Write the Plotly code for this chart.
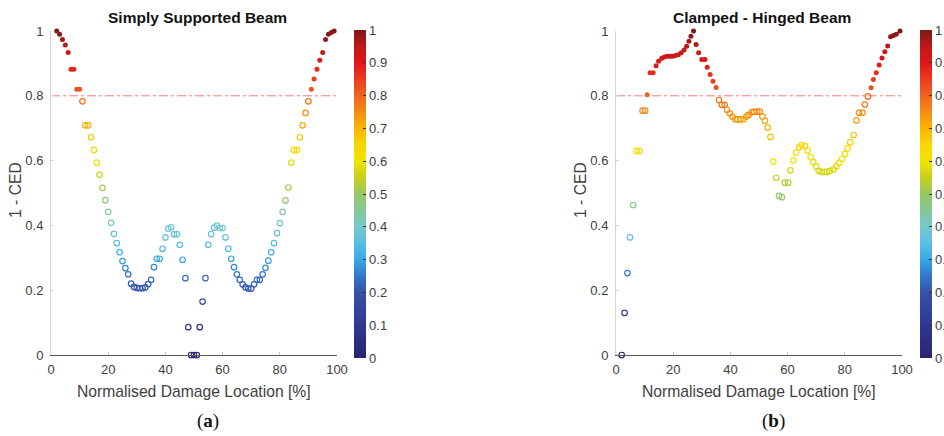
import plotly.graph_objects as go

# ---------------- data ----------------
THRESHOLD = 0.8

x_ss = list(range(2, 100))
y_ss = [1.000, 0.990, 0.974, 0.957, 0.934, 0.882, 0.882, 0.820, 0.820, 0.783,
        0.709, 0.709, 0.672, 0.633, 0.594, 0.556, 0.516, 0.478, 0.442, 0.408,
        0.374, 0.345, 0.317, 0.290, 0.268, 0.249, 0.220, 0.210, 0.207, 0.206,
        0.206, 0.209, 0.219, 0.232, 0.271, 0.297, 0.297, 0.328, 0.363, 0.390,
        0.394, 0.373, 0.373, 0.340, 0.294, 0.237, 0.086, 0.000, 0.000, 0.000,
        0.086, 0.165, 0.237, 0.340, 0.373, 0.393, 0.399, 0.392, 0.392, 0.363,
        0.328, 0.297, 0.271, 0.249, 0.232, 0.218, 0.209, 0.205, 0.205, 0.218,
        0.232, 0.232, 0.249, 0.269, 0.291, 0.317, 0.345, 0.376, 0.407, 0.442,
        0.477, 0.517, 0.594, 0.633, 0.633, 0.672, 0.709, 0.747, 0.783, 0.820,
        0.852, 0.882, 0.910, 0.934, 0.974, 0.990, 0.995, 1.000]

x_ch = [2.0, 3.0, 4.0, 4.9, 6.0, 7.2, 8.2, 9.3, 10.2, 10.9,
        11.9, 13.0, 14.0, 14.9, 16.0, 16.9, 17.9, 18.9, 19.8, 20.8,
        21.8, 22.8, 23.8, 24.7, 25.5, 26.2, 27.1, 28.0, 28.9, 30.0,
        31.1, 31.9, 32.9, 33.9, 35.0, 36.0, 37.0, 38.0, 38.8, 39.8,
        40.7, 41.7, 42.6, 43.5, 44.5, 45.6, 46.4, 47.4, 48.3, 49.4,
        50.3, 51.2, 52.1, 53.0, 54.0, 55.0, 56.0, 57.0, 58.0, 59.0,
        60.2, 61.0, 62.0, 63.0, 64.0, 64.9, 66.1, 67.0, 68.1, 69.0,
        70.0, 70.9, 71.9, 72.9, 73.8, 74.8, 76.1, 77.0, 78.0, 79.0,
        80.1, 81.0, 81.9, 83.1, 84.1, 85.0, 86.2, 87.0, 88.1, 89.2,
        90.0, 91.0, 92.0, 93.0, 94.0, 95.0, 96.0, 97.0, 98.0, 99.3]
y_ch = [0.000, 0.130, 0.253, 0.363, 0.463, 0.630, 0.630, 0.754, 0.754, 0.803,
        0.871, 0.871, 0.893, 0.907, 0.916, 0.920, 0.922, 0.922, 0.922, 0.924,
        0.927, 0.933, 0.941, 0.953, 0.968, 0.984, 1.000, 0.958, 0.933, 0.912,
        0.912, 0.888, 0.866, 0.845, 0.826, 0.787, 0.772, 0.772, 0.757, 0.746,
        0.736, 0.728, 0.727, 0.727, 0.728, 0.736, 0.741, 0.749, 0.751, 0.751,
        0.751, 0.736, 0.723, 0.702, 0.673, 0.597, 0.547, 0.491, 0.487, 0.532,
        0.532, 0.570, 0.601, 0.625, 0.641, 0.648, 0.645, 0.631, 0.611, 0.595,
        0.582, 0.568, 0.565, 0.565, 0.565, 0.568, 0.573, 0.582, 0.593, 0.605,
        0.621, 0.638, 0.657, 0.679, 0.724, 0.748, 0.748, 0.773, 0.798, 0.825,
        0.850, 0.871, 0.895, 0.917, 0.936, 0.954, 0.982, 0.986, 0.990, 1.000]

titles = ["Simply Supported Beam", "Clamped - Hinged Beam"]
panel_labels = ["(<b>a</b>)", "(<b>b</b>)"]
x_ticks = [0, 20, 40, 60, 80, 100]
y_ticks = [0, 0.2, 0.4, 0.6, 0.8, 1]
y_ticktext = ["0", "0.2", "0.4", "0.6", "0.8", "1"]
cb_ticks = [0, 0.1, 0.2, 0.3, 0.4, 0.5, 0.6, 0.7, 0.8, 0.9, 1]
cb_ticktext = ["0", "0.1", "0.2", "0.3", "0.4", "0.5", "0.6", "0.7", "0.8", "0.9", "1"]

# ---------------- style ----------------
CS = [
    [0.00, "rgb(42,36,112)"],
    [0.10, "rgb(48,55,145)"],
    [0.20, "rgb(55,82,165)"],
    [0.25, "rgb(52,118,200)"],
    [0.30, "rgb(55,168,230)"],
    [0.35, "rgb(92,190,230)"],
    [0.40, "rgb(118,200,205)"],
    [0.45, "rgb(132,200,150)"],
    [0.50, "rgb(152,200,98)"],
    [0.55, "rgb(200,208,30)"],
    [0.60, "rgb(240,228,0)"],
    [0.65, "rgb(250,215,0)"],
    [0.70, "rgb(250,180,0)"],
    [0.75, "rgb(245,140,20)"],
    [0.80, "rgb(240,100,30)"],
    [0.85, "rgb(235,60,30)"],
    [0.90, "rgb(225,22,25)"],
    [0.95, "rgb(190,25,25)"],
    [1.00, "rgb(125,25,25)"],
]

W, H = 944, 436
def px(v): return v / W
def py(v): return 1 - v / H

TICK_FONT = dict(family="Liberation Sans, Arial, sans-serif", size=13, color="#404040")
LBL_FONT = dict(family="Liberation Sans, Arial, sans-serif", size=15.7, color="#404040")

panels = [
    dict(x=x_ss, y=y_ss, xa="x", ya="y", ca="coloraxis", x0=51, x1=337, cb=354),
    dict(x=x_ch, y=y_ch, xa="x2", ya="y2", ca="coloraxis2", x0=616, x1=902, cb=920),
]
Y_TOP, Y_BOT = 31, 355

fig = go.Figure()
layout = dict(width=W, height=H, margin=dict(l=0, r=0, t=0, b=0, autoexpand=False),
              paper_bgcolor="white", plot_bgcolor="white", showlegend=False,
              annotations=[], shapes=[])

for i, p in enumerate(panels):
    filled_x = [a for a, b in zip(p["x"], p["y"]) if b > THRESHOLD]
    filled_y = [b for b in p["y"] if b > THRESHOLD]
    open_x = [a for a, b in zip(p["x"], p["y"]) if b <= THRESHOLD]
    open_y = [b for b in p["y"] if b <= THRESHOLD]
    fig.add_trace(go.Scatter(x=open_x, y=open_y, mode="markers", xaxis=p["xa"], yaxis=p["ya"],
                             cliponaxis=False,
                             marker=dict(symbol="circle-open", size=5.5, color=open_y,
                                         coloraxis=p["ca"], line=dict(width=1.2))))
    fig.add_trace(go.Scatter(x=filled_x, y=filled_y, mode="markers", xaxis=p["xa"], yaxis=p["ya"],
                             cliponaxis=False,
                             marker=dict(symbol="circle", size=5, color=filled_y,
                                         coloraxis=p["ca"], line=dict(width=0))))
    sfx = "" if i == 0 else "2"
    layout["xaxis" + sfx] = dict(domain=[px(p["x0"]), px(p["x1"])], range=[0, 100],
                                 anchor="y" + sfx, tickvals=x_ticks, showgrid=False, zeroline=False,
                                 showline=True, linecolor="#5a5a5a", linewidth=1,
                                 ticks="inside", ticklen=3, tickcolor="#c8c8c8",
                                 tickfont=TICK_FONT, ticklabelstandoff=2)
    layout["yaxis" + sfx] = dict(domain=[py(Y_BOT), py(Y_TOP)], range=[0, 1],
                                 anchor="x" + sfx, tickvals=y_ticks, ticktext=y_ticktext,
                                 showgrid=False, zeroline=False,
                                 showline=True, linecolor="#d4d4d4", linewidth=1,
                                 ticks="inside", ticklen=3, tickcolor="#d4d4d4",
                                 tickfont=TICK_FONT, ticklabelstandoff=4)
    layout[p["ca"]] = dict(colorscale=CS, cmin=0, cmax=1,
                           colorbar=dict(x=px(p["cb"]), xanchor="left", xpad=0, ypad=0,
                                         y=py(30), yanchor="top", len=(358 - 30) / H,
                                         lenmode="fraction", thickness=12, thicknessmode="pixels",
                                         outlinewidth=0, tickvals=cb_ticks, ticktext=cb_ticktext,
                                         ticks="inside", ticklen=3, tickcolor="#303030",
                                         tickfont=TICK_FONT))
    cx = (p["x0"] + p["x1"]) / 2
    layout["annotations"] += [
        dict(text="<b>" + titles[i] + "</b>", x=px(cx + 3), y=py(18), xref="paper", yref="paper",
             showarrow=False, font=dict(family="Liberation Sans, Arial, sans-serif", size=15.5, color="#111111"),
             xanchor="center", yanchor="middle"),
        dict(text="1 - CED", x=px(p["x0"] - 35), y=py(190), xref="paper", yref="paper",
             showarrow=False, textangle=-90, font=LBL_FONT, xanchor="center", yanchor="middle"),
        dict(text="Normalised Damage Location [%]", x=px(cx), y=py(391), xref="paper", yref="paper",
             showarrow=False, font=LBL_FONT, xanchor="center", yanchor="middle"),
        dict(text=panel_labels[i], x=px(cx + 14), y=py(421), xref="paper", yref="paper",
             showarrow=False, font=dict(family="Liberation Serif, Times New Roman, serif", size=19, color="#111111"),
             xanchor="center", yanchor="middle"),
    ]
    layout["shapes"].append(dict(type="line", xref=p["xa"] + " domain", x0=0, x1=1,
                                 yref=p["ya"], y0=THRESHOLD, y1=THRESHOLD, layer="below",
                                 line=dict(color="rgb(255,120,120)", width=1, dash="dashdot")))

fig.update_layout(**layout)
fig.write_html("out.html")
